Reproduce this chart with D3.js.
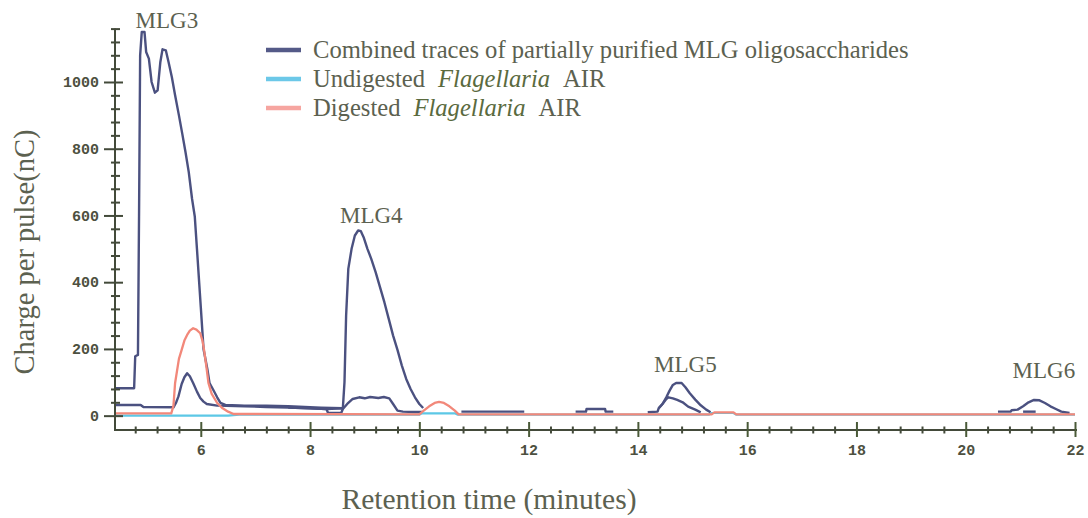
<!DOCTYPE html>
<html>
<head>
<meta charset="utf-8">
<script src="https://cdn.jsdelivr.net/npm/d3@7/dist/d3.min.js"></script>
<style>
  html, body { margin: 0; padding: 0; background: #ffffff; }
  svg { display: block; }
</style>
</head>
<body>
<svg id="chart" width="1088" height="518"></svg>
<script>
// HPAEC-PAD traces: retention time (min) vs charge per pulse (nC)

// Purified MLG oligosaccharide runs (combined traces)
const blueMLG3 = [[4.43,82],[4.78,82],[4.8,178],[4.85,182],[4.87,600],[4.89,1080],[4.92,1150],[4.97,1150],[5.0,1090],[5.05,1070],[5.1,1000],[5.16,968],[5.21,975],[5.26,1060],[5.3,1098],[5.36,1095],[5.41,1060],[5.47,1015],[5.53,960],[5.6,900],[5.66,846],[5.72,790],[5.78,730],[5.84,650],[5.89,597],[5.93,500],[5.97,400],[6.0,326],[6.05,200],[6.12,140],[6.16,98],[6.22,80],[6.3,55],[6.36,38],[6.45,32],[6.8,30],[7.2,30],[7.6,28],[7.9,26],[8.2,24],[8.6,22]];
const blueSmall = [[4.43,32],[4.9,32],[4.95,26],[5.5,25],[5.55,40],[5.59,57],[5.65,95],[5.7,115],[5.75,127],[5.8,118],[5.86,98],[5.93,72],[5.99,53],[6.05,42],[6.11,35],[6.3,30],[6.8,28],[7.2,26],[7.6,24],[8.0,22],[8.3,20],[8.33,8],[8.57,8],[8.6,20],[8.68,35],[8.78,50],[8.9,55],[9.0,52],[9.1,56],[9.25,53],[9.35,56],[9.45,52],[9.52,35],[9.6,15],[9.7,12],[9.9,11],[10.05,11]];
const blueMLG4 = [[7.6,24],[8.0,22],[8.3,20],[8.6,22],[8.63,100],[8.66,300],[8.7,440],[8.76,500],[8.82,540],[8.88,555],[8.93,553],[8.98,535],[9.05,500],[9.12,470],[9.2,430],[9.28,385],[9.36,340],[9.44,290],[9.52,240],[9.6,197],[9.68,150],[9.76,110],[9.84,80],[9.92,55],[10.0,35],[10.07,23]];
const blueTail4 = [[10.77,12],[11.92,12]];
const blueBump13 = [[12.86,12],[13.05,12],[13.06,20],[13.4,20],[13.41,12],[13.55,12]];
const blueMLG5 = [[14.18,10],[14.36,12],[14.38,22],[14.45,35],[14.52,55],[14.58,75],[14.64,92],[14.7,98],[14.8,98],[14.87,85],[14.95,67],[15.05,48],[15.15,31],[15.25,18],[15.33,10]];
const blueMLG5b = [[14.38,22],[14.45,35],[14.52,50],[14.56,55],[14.64,52],[14.72,47],[14.82,40],[14.92,27],[15.05,18],[15.15,10]];
const blueMLG6 = [[20.59,12],[20.82,12],[20.84,16],[20.95,18],[21.05,28],[21.15,40],[21.25,47],[21.35,46],[21.45,38],[21.55,28],[21.65,20],[21.75,12],[21.9,8]];
const blueMLG6b = [[21.05,12],[21.28,12]];
const blueTraces = [blueMLG3, blueSmall, blueMLG4, blueTail4, blueBump13, blueMLG5, blueMLG5b, blueMLG6, blueMLG6b];

// Undigested Flagellaria AIR
const cyanUndigested = [[4.43,0],[6.5,0],[6.7,3],[10.0,3],[10.05,7],[10.65,7],[10.7,3],[15.3,3],[15.35,8],[15.75,8],[15.8,3],[22.0,3]];
// Digested Flagellaria AIR
const redDigested = [[4.43,7],[5.46,7],[5.5,30],[5.53,98],[5.6,170],[5.65,197],[5.7,225],[5.75,242],[5.8,255],[5.86,262],[5.92,258],[5.99,247],[6.03,225],[6.06,197],[6.1,150],[6.14,98],[6.2,65],[6.3,38],[6.4,22],[6.5,12],[6.6,5],[10.0,4],[10.08,15],[10.18,28],[10.28,38],[10.36,41],[10.45,38],[10.55,28],[10.65,15],[10.72,4],[15.35,4],[15.4,10],[15.75,10],[15.8,4],[22.0,4]];

// Axis ticks
const xMajorTicks = [6, 8, 10, 12, 14, 16, 18, 20, 22];
const xTickLabels = ["6", "8", "10", "12", "14", "16", "18", "20", "22"];
const yMajorTicks = [0, 200, 400, 600, 800, 1000];
const yTickLabels = ["0", "200", "400", "600", "800", "1000"];

// Peak labels
const peakNames = ["MLG3", "MLG4", "MLG5", "MLG6"];
const peakTimes = [5.38, 9.12, 14.87, 21.43];
const peakLabelValues = [1163, 578, 130, 112];

// Legend
const legendLabels = [
  [["Combined traces of partially purified MLG oligosaccharides", false]],
  [["Undigested", false], ["Flagellaria", true], ["AIR", false]],
  [["Digested", false], ["Flagellaria", true], ["AIR", false]]
];
const legendColors = ["#545a88", "#6cc8e8", "#f6a5a0"];

const blueColor = "#4b5180";
const cyanColor = "#5cc8e6";
const redColor = "#f2887a";
const axisColor = "#434a3a";
const textColor = "#5c6150";

const svg = d3.select("#chart");

const x = d3.scaleLinear().domain([4.43, 22.0]).range([115, 1075]);
const y = d3.scaleLinear().domain([-43, 1160]).range([430, 28.6]);

const line = d3.line().x(d => x(d[0])).y(d => y(d[1]));

// Traces: undigested, blue runs, then digested on top
svg.append("path").datum(cyanUndigested)
  .attr("d", line).attr("fill", "none")
  .attr("stroke", cyanColor).attr("stroke-width", 2.2);

svg.append("g").selectAll("path").data(blueTraces).join("path")
  .attr("d", line).attr("fill", "none")
  .attr("stroke", blueColor).attr("stroke-width", 2.4)
  .attr("stroke-linejoin", "round");

svg.append("path").datum(redDigested)
  .attr("d", line).attr("fill", "none")
  .attr("stroke", redColor).attr("stroke-width", 2.3)
  .attr("stroke-linejoin", "round");

// X axis
const xMinor = d3.range(12, 56).filter(i => i % 5 !== 0).map(i => i * 0.4);
const xAxisMinor = svg.append("g").attr("transform", "translate(0,430)")
  .call(d3.axisBottom(x).tickValues(xMinor).tickFormat("").tickSizeOuter(0).tickSize(0));
xAxisMinor.select(".domain").remove();
xAxisMinor.selectAll(".tick line").attr("y1", -3.5).attr("y2", 3.5)
  .attr("stroke", axisColor).attr("stroke-width", 2);

const xAxis = svg.append("g").attr("transform", "translate(0,430)")
  .call(d3.axisBottom(x).tickValues(xMajorTicks)
    .tickFormat((d, i) => xTickLabels[i]).tickSizeOuter(0).tickSize(0).tickPadding(14));
xAxis.select(".domain").attr("stroke", axisColor).attr("stroke-width", 2)
  .attr("d", `M${x.range()[0]},0H${x(22) + 2}`);
xAxis.selectAll(".tick line").attr("y1", -8).attr("y2", 7)
  .attr("stroke", "#4a5a38").attr("stroke-width", 2);
xAxis.selectAll(".tick text")
  .attr("fill", "#4d5040").attr("font-family", "Liberation Mono")
  .attr("font-weight", "bold").attr("font-size", 15);

// Y axis
const yMinor = d3.range(1, 30).filter(i => i % 5 !== 0).map(i => i * 40);
const yAxisMinor = svg.append("g").attr("transform", "translate(115,0)")
  .call(d3.axisLeft(y).tickValues(yMinor).tickFormat("").tickSizeOuter(0).tickSize(0));
yAxisMinor.select(".domain").remove();
yAxisMinor.selectAll(".tick line").attr("x1", -4).attr("x2", 5)
  .attr("stroke", axisColor).attr("stroke-width", 2);

const yAxis = svg.append("g").attr("transform", "translate(115,0)")
  .call(d3.axisLeft(y).tickValues(yMajorTicks)
    .tickFormat((d, i) => yTickLabels[i]).tickSizeOuter(0).tickSize(0).tickPadding(16));
yAxis.select(".domain").attr("stroke", axisColor).attr("stroke-width", 2)
  .attr("d", `M0,${y.range()[0] + 1}V${y.range()[1]}`);
yAxis.selectAll(".tick line").attr("x1", -11).attr("x2", 8)
  .attr("stroke", axisColor).attr("stroke-width", 2);
yAxis.selectAll(".tick text")
  .attr("fill", "#4d5040").attr("font-family", "Liberation Mono")
  .attr("font-weight", "bold").attr("font-size", 15);

// Axis titles
svg.append("text")
  .attr("transform", "translate(34,252) rotate(-90)")
  .attr("text-anchor", "middle")
  .attr("font-family", "Liberation Serif").attr("font-size", 28.5)
  .attr("fill", textColor)
  .text("Charge per pulse(nC)");

svg.append("text")
  .attr("x", 489).attr("y", 509)
  .attr("text-anchor", "middle")
  .attr("font-family", "Liberation Serif").attr("font-size", 29.5)
  .attr("fill", textColor)
  .text("Retention time (minutes)");

// Peak labels
svg.append("g").selectAll("text").data(peakNames).join("text")
  .attr("x", (d, i) => x(peakTimes[i]))
  .attr("y", (d, i) => y(peakLabelValues[i]))
  .attr("text-anchor", "middle")
  .attr("font-family", "Liberation Serif").attr("font-size", 23)
  .attr("fill", textColor)
  .text(d => d);

// Legend
const legend = svg.append("g").attr("transform", "translate(266,50)");
legendLabels.forEach((parts, i) => {
  const row = legend.append("g").attr("transform", `translate(0,${i * 29})`);
  row.append("line").attr("x1", 0).attr("x2", 35).attr("y1", 0).attr("y2", 0)
    .attr("stroke", legendColors[i]).attr("stroke-width", 4.5);
  const t = row.append("text").attr("x", 47).attr("y", 8)
    .attr("font-family", "Liberation Serif").attr("font-size", 24.6)
    .attr("fill", textColor);
  parts.forEach(([s, it], j) => {
    t.append("tspan").attr("font-style", it ? "italic" : "normal")
      .attr("fill", it ? "#5a6a3e" : textColor)
      .attr("dx", j === 0 ? 0 : 13)
      .text(s);
  });
});
</script>
</body>
</html>
